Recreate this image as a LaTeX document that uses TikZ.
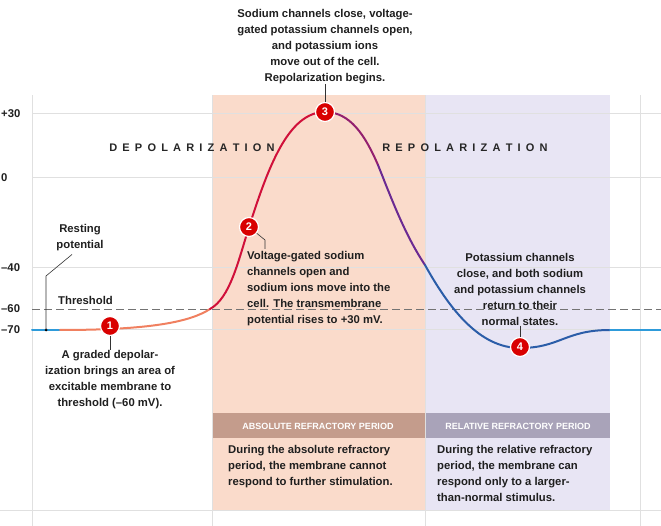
\documentclass[tikz,border=0pt]{standalone}
\usepackage{fontspec}
\setmainfont{Liberation Sans}[BoldFont={Liberation Sans Bold}]
\newcommand{\lsp}{\hspace{5.2pt}}
\begin{document}
\begin{tikzpicture}[x=1pt,y=-1pt,
  lab/.style={font=\fontsize{11.3}{16}\selectfont\bfseries, text=black!88, inner sep=0},
  num/.style={circle, fill=red!85!black, draw=white, line width=1.2pt, minimum size=19pt, inner sep=0, text=white, font=\fontsize{11}{11}\selectfont\bfseries},
  grid/.style={draw=black!12, line width=1pt},
  lead/.style={draw=black!80, line width=0.6pt},
  hdr/.style={font=\fontsize{9}{10}\selectfont\bfseries, text=white, inner sep=0},
  curve/.style={line width=2pt, line cap=round}]
\useasboundingbox (0,0) rectangle (661,526);
\definecolor{salmon}{HTML}{FADBCB}
\definecolor{lav}{HTML}{E8E5F4}
\definecolor{salmonD}{HTML}{C49C8C}
\definecolor{lavD}{HTML}{A9A3B9}
% shaded bands
\fill[salmon] (212,95) rectangle (425,510);
\fill[lav] (425,95) rectangle (610,510);
\fill[salmonD] (212,413) rectangle (425,438);
\fill[lavD] (425,413) rectangle (610,438);
% grid
\foreach \y in {114,178,268,330} \draw[grid] (32,\y) -- (661,\y);
\draw[grid] (0,510) -- (661,510);
\foreach \x in {32,212,425,640} \draw[grid] (\x,95) -- (\x,526);
\draw[black!55, dash pattern=on 8pt off 4pt, line width=0.9pt] (32,309) -- (661,309);
% axis labels
\foreach \y/\t in {114/+30,178/0,268/–40,309/–60,330/–70}
  \node[lab, anchor=west] (ax\y) at (1,\y) {\t};
% curve
\definecolor{lblue}{HTML}{2E9BDA}
\definecolor{dblue}{HTML}{2B5DA8}
\definecolor{orng}{HTML}{F08060}
\definecolor{crim}{HTML}{D0103A}
\definecolor{purp}{HTML}{6B2A92}
\draw[curve, lblue] (32,330) -- (60,330);
\draw[curve, orng] (60,330) .. controls (150,330) and (190,322) .. (210,309);
\draw[curve, crim] (210,309) .. controls (230,298) and (238,262) .. (249,227) .. controls (268,168) and (288,112) .. (325,112);
\draw[curve, purp!60!crim] (325,112) .. controls (350,112) and (365,135) .. (378,165);
\draw[curve, purp] (378,165) .. controls (392,200) and (405,235) .. (425,265);
\draw[curve, dblue] (425,265) .. controls (450,310) and (480,348) .. (520,348) .. controls (560,348) and (565,330) .. (610,330);
\draw[curve, lblue] (610,330) -- (661,330);
% resting potential
\fill (46,330) circle (1.5pt);
\coordinate (rp) at (46,330);
\node[lab, align=center] (rest) at (80,238) {Resting\\potential};
\draw[lead] (rest.south) ++(-8,3) -- (46,276) -- (rp);
\node[lab, anchor=west] (thr) at (58,300) {Threshold};
% headings
\node[font=\fontsize{11}{12}\selectfont\bfseries, text=black!85] (dep) at (192,148) {D\lsp E\lsp P\lsp O\lsp L\lsp A\lsp R\lsp I\lsp Z\lsp A\lsp T\lsp I\lsp O\lsp N};
\node[font=\fontsize{11}{12}\selectfont\bfseries, text=black!85] (rep) at (465,148) {R\lsp E\lsp P\lsp O\lsp L\lsp A\lsp R\lsp I\lsp Z\lsp A\lsp T\lsp I\lsp O\lsp N};
% numbered circles
\node[num] (n1) at (110,326) {1};
\node[num] (n2) at (249,227) {2};
\node[num] (n3) at (325,112) {3};
\node[num] (n4) at (520,347) {4};
% texts
\node[lab, align=center, anchor=north] (t3) at (325,9) {Sodium channels close, voltage-\\gated potassium channels open,\\and potassium ions\\move out of the cell.\\Repolarization begins.};
\draw[lead] (t3.south) -- (n3);
\node[lab, align=center, anchor=north] (t1) at (110,350) {A graded depolar-\\ization brings an area of\\excitable membrane to\\threshold (–60 mV).};
\draw[lead] (n1) -- (t1.north);
\node[lab, align=left, anchor=north west] (t2) at (247,251) {Voltage-gated sodium\\channels open and\\sodium ions move into the\\cell. The transmembrane\\potential rises to +30 mV.};
\draw[lead] (n2) -- (265,240) -- (265,249);
\node[lab, align=center, anchor=north] (t4) at (520,253) {Potassium channels\\close, and both sodium\\and potassium channels\\return to their\\normal states.};
\draw[lead] (t4.south) -- (n4);
\node[hdr] (h1) at (318,426) {ABSOLUTE REFRACTORY PERIOD};
\node[hdr] (h2) at (518,426) {RELATIVE REFRACTORY PERIOD};
\node[lab, align=left, anchor=north west] (b1) at (228,445) {During the absolute refractory\\period, the membrane cannot\\respond to further stimulation.};
\node[lab, align=left, anchor=north west] (b2) at (437,445) {During the relative refractory\\period, the membrane can\\respond only to a larger-\\than-normal stimulus.};
\end{tikzpicture}
\end{document}
